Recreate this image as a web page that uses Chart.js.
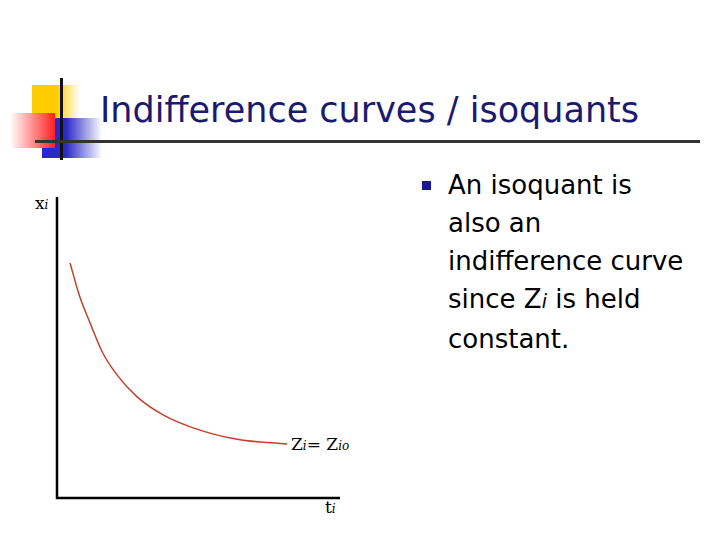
<!DOCTYPE html><html><head><meta charset="utf-8">
<script src="https://cdn.jsdelivr.net/npm/chart.js@4"></script>
<style>
body{margin:0;width:720px;height:540px;background:#fff;position:relative;overflow:hidden;font-family:"DejaVu Sans",sans-serif}
.a{position:absolute}
</style></head><body>
<div class="a" style="left:32px;top:85px;width:48px;height:40px;background:linear-gradient(to right,#ffcc00 50%,#fff)"></div>
<div class="a" style="left:42px;top:118px;width:60px;height:40px;background:linear-gradient(to right,#2a2ac8 40%,#fff)"></div>
<div class="a" style="left:10px;top:113px;width:45px;height:35px;background:linear-gradient(to left,#ff2020,#fff)"></div>
<div class="a" style="left:60px;top:78px;width:3px;height:82px;background:#111"></div>
<div class="a" style="left:35px;top:140px;width:665px;height:3px;background:#333"></div>
<div class="a" style="left:100px;top:90px;font-size:35px;color:#1a1a6e;white-space:nowrap">Indifference curves / isoquants</div>
<div class="a" style="left:422px;top:181px;width:9px;height:9px;background:#1a1a8c"></div>
<div class="a" style="left:448px;top:166px;font-size:26px;line-height:38px;color:#000;white-space:nowrap">An isoquant is<br>also an<br>indifference curve<br>since Z<i style="font-size:19px">i</i> is held<br>constant.</div>
<div class="a" style="left:35px;top:193px;font-family:'DejaVu Serif',serif;font-size:17px">x<i style="font-size:12px">i</i></div>
<div class="a" style="left:325px;top:497px;font-family:'DejaVu Serif',serif;font-size:17px">t<i style="font-size:12px">i</i></div>
<div class="a" style="left:291px;top:434px;font-family:'DejaVu Serif',serif;font-size:17px;white-space:nowrap">Z<i style="font-size:12px">i</i>= Z<i style="font-size:12px">io</i></div>
<div class="a" style="left:47px;top:187px;width:303px;height:321px"><canvas id="c"></canvas></div>
<script>
const xs=[4.6,8,11.7,16,21.2,28.3,37.5,48.1,63.6,81.3];
const ys=[78.1,67,58.1,48.5,40.9,33.6,27.6,23.3,19.5,17.9];
const axes={id:'axes',afterDraw(ch){const a=ch.chartArea,c=ch.ctx;c.save();c.strokeStyle='#000';c.lineWidth=2.5;c.beginPath();c.moveTo(a.left,a.top);c.lineTo(a.left,a.bottom);c.lineTo(a.right,a.bottom);c.stroke();c.restore();}};
new Chart(document.getElementById('c'),{type:'scatter',data:{datasets:[{data:xs.map((x,i)=>({x,y:ys[i]})),showLine:true,borderColor:'#c8402a',borderWidth:1.5,pointRadius:0,cubicInterpolationMode:'monotone'}]},
options:{responsive:true,maintainAspectRatio:false,animation:false,layout:{padding:{left:10,top:10,right:10,bottom:10}},
plugins:{legend:{display:false},tooltip:{enabled:false}},
scales:{x:{display:false,min:0,max:100},y:{display:false,min:0,max:100}}},plugins:[axes]});
</script></body></html>
